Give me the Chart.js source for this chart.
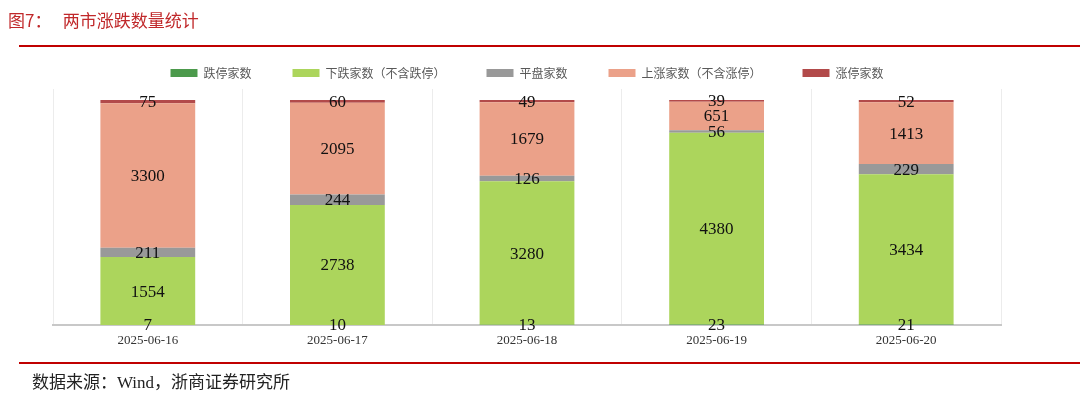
<!DOCTYPE html>
<html>
<head>
<meta charset="utf-8">
<script src="https://cdn.jsdelivr.net/npm/chart.js@4.4.1/dist/chart.umd.min.js"></script>
<style>
  html, body { margin: 0; padding: 0; background: #fff; }
  #wrap { position: relative; width: 1080px; height: 399px; overflow: hidden; }
  #chart { position: absolute; left: 0; top: 0; }
  .title { position: absolute; left: 8px; top: 7px; color: #c0282a; font: 17px "Noto Sans CJK SC", sans-serif; white-space: pre; }
  .rule { position: absolute; left: 19px; right: 0; height: 2px; background: #c00000; }
  .source { position: absolute; left: 32px; top: 368px; color: #222; font: 17px "Liberation Serif", "Noto Sans CJK SC", serif; }
</style>
</head>
<body>
<div id="wrap">
  <canvas id="chart" width="1080" height="399"></canvas>
  <div class="title">图7：   两市涨跌数量统计</div>
  <div class="rule" style="top:45px"></div>
  <div class="rule" style="top:362px"></div>
  <div class="source">数据来源：Wind，浙商证券研究所</div>
</div>
<script>
// categories and series
const dates = ["2025-06-16", "2025-06-17", "2025-06-18", "2025-06-19", "2025-06-20"];
const limitDown = [7, 10, 13, 23, 21];
const fallers = [1554, 2738, 3280, 4380, 3434];
const flat = [211, 244, 126, 56, 229];
const risers = [3300, 2095, 1679, 651, 1413];
const limitUp = [75, 60, 49, 39, 52];

// value labels in the middle of each segment
const segLabels = {
    id: "segLabels",
    afterDatasetsDraw(chart) {
        const ctx = chart.ctx;
        ctx.save();
        ctx.font = "17px 'Liberation Serif', serif";
        ctx.fillStyle = "#111";
        ctx.textAlign = "center";
        ctx.textBaseline = "middle";
        chart.data.datasets.forEach((ds, i) => {
            chart.getDatasetMeta(i).data.forEach((bar, j) => {
                const p = bar.getProps(["x", "y", "base"], true);
                ctx.fillText(String(ds.data[j]), p.x, (p.y + p.base) / 2 + 1);
            });
        });
        ctx.restore();
    }
};

new Chart(document.getElementById("chart"), {
    type: "bar",
    data: {
        labels: dates,
        datasets: [
            { label: "跌停家数", data: limitDown, backgroundColor: "#4c9a4c" },
            { label: "下跌家数（不含跌停）", data: fallers, backgroundColor: "#acd55c" },
            { label: "平盘家数", data: flat, backgroundColor: "#999999" },
            { label: "上涨家数（不含涨停）", data: risers, backgroundColor: "#eba189" },
            { label: "涨停家数", data: limitUp, backgroundColor: "#b24a4a" }
        ]
    },
    options: {
        responsive: false,
        animation: false,
        layout: { padding: { left: 53, right: 79, top: 26, bottom: 44 } },
        datasets: { bar: { categoryPercentage: 1, barPercentage: 0.5 } },
        plugins: {
            legend: {
                position: "top",
                labels: {
                    boxWidth: 27, boxHeight: 8, padding: 41,
                    color: "#595959",
                    font: { family: "'Noto Sans CJK SC'", size: 12 }
                }
            },
            tooltip: { enabled: false }
        },
        scales: {
            x: {
                stacked: true,
                grid: { color: "#ececec", offset: true, drawTicks: false },
                border: { color: "#c8c8c8", width: 2 },
                ticks: { color: "#333", padding: 7, font: { family: "'Liberation Serif'", size: 13 } }
            },
            y: {
                stacked: true,
                min: 0, max: 5400,
                ticks: { display: false, stepSize: 1000 },
                grid: {
                    drawTicks: false,
                    color: c => (c.tick && c.tick.value % 1000 === 0) ? "#ececec" : "rgba(0,0,0,0)"
                },
                border: { display: false }
            }
        }
    },
    plugins: [segLabels]
});
</script>
</body>
</html>
